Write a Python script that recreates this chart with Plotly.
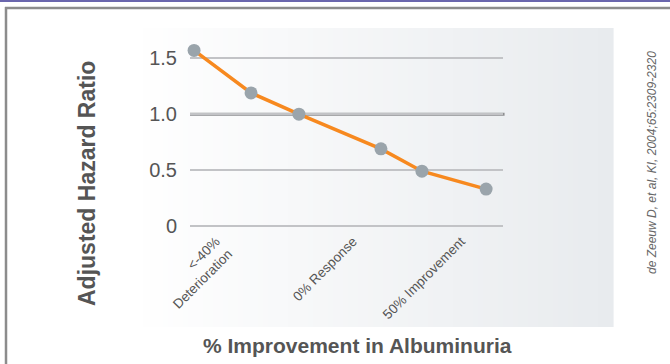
import plotly.graph_objects as go

# Adjusted hazard ratio by change in albuminuria (positions on a 0-100 position scale)
x_pos = [1.3, 19.5, 34.8, 61.0, 74.1, 94.6]
hazard_ratio = [1.57, 1.19, 1.0, 0.69, 0.49, 0.33]

tick_pos = [8.3, 52.1, 86.6]
tick_text = ["&lt;-40%<br>Deterioration", "0% Response", "50% Improvement"]
y_ticks = [0, 0.5, 1.0, 1.5]
y_tick_text = ["0", "0.5", "1.0", "1.5"]

W, H = 670, 364
L, R, T, B = 190, 167, 45, 136
FONT = "Liberation Sans, Arial, Helvetica, sans-serif"

# vertical scale: pixels per hazard-ratio unit, and the pixel row of zero
UNIT = 111.8
ZERO_ROW = 226
y_min = -(H - B - ZERO_ROW) / UNIT
y_max = y_min + (H - T - B) / UNIT


def px_x(p):
    return (p - L) / (W - L - R)


def px_y(p):
    return (H - B - p) / (H - T - B)


shapes = []
# soft horizontal gradient panel behind the plot
x0, x1, y0, y1 = 128, 613, 28, 327
n = 97
c_left = (255, 255, 255)
c_right = (232, 235, 238)
step = (x1 - x0) / n
for i in range(n):
    f = i / (n - 1)
    col = tuple(round(a + (b - a) * f) for a, b in zip(c_left, c_right))
    shapes.append(dict(
        type="rect", xref="paper", yref="paper",
        x0=px_x(x0 + i * step), x1=px_x(x0 + (i + 1) * step + 0.6),
        y0=px_y(y1), y1=px_y(y0),
        fillcolor="rgb(%d,%d,%d)" % col, line=dict(width=0), layer="below",
    ))

# reference line at hazard ratio 1.0
shapes.append(dict(type="line", xref="paper", yref="y", x0=0, x1=1.005, y0=1.0, y1=1.0,
                   line=dict(color="#8d8e90", width=3), layer="between"))

# page frame: purple rule and grey border
shapes.append(dict(type="rect", xref="paper", yref="paper",
                   x0=px_x(0), x1=px_x(W), y0=px_y(2), y1=px_y(0),
                   fillcolor="#6a66ad", line=dict(width=0), layer="above"))
shapes.append(dict(type="line", xref="paper", yref="paper",
                   x0=px_x(5), x1=px_x(W), y0=px_y(8), y1=px_y(8),
                   line=dict(color="#8c8c8c", width=2.5), layer="above"))
shapes.append(dict(type="line", xref="paper", yref="paper",
                   x0=px_x(6), x1=px_x(6), y0=px_y(7), y1=px_y(H),
                   line=dict(color="#8c8c8c", width=2.5), layer="above"))

fig = go.Figure()
fig.add_trace(go.Scatter(
    x=x_pos, y=hazard_ratio, mode="lines+markers",
    line=dict(color="#f7891f", width=3.5),
    marker=dict(color="#9aa4ab", size=13, line=dict(width=0)),
    cliponaxis=False, showlegend=False, hoverinfo="skip",
))

annotations = [
    dict(text="<b>Adjusted Hazard Ratio</b>", xref="paper", yref="paper",
         x=px_x(87), y=px_y(184), textangle=-90, showarrow=False,
         font=dict(family=FONT, size=23, color="#555555"),
         xanchor="center", yanchor="middle"),
    dict(text="<b>% Improvement in Albuminuria</b>", xref="paper", yref="paper",
         x=px_x(357), y=px_y(345), showarrow=False,
         font=dict(family=FONT, size=21, color="#555555"),
         xanchor="center", yanchor="middle"),
    dict(text="<i>de Zeeuw D, et al, KI, 2004;65:2309-2320</i>", xref="paper", yref="paper",
         x=px_x(652), y=px_y(163), textangle=-90, showarrow=False,
         font=dict(family=FONT, size=12, color="#666666"),
         xanchor="center", yanchor="middle"),
]

fig.update_layout(
    width=W, height=H,
    margin=dict(l=L, r=R, t=T, b=B, pad=0),
    paper_bgcolor="white", plot_bgcolor="rgba(0,0,0,0)",
    font=dict(family=FONT, color="#555555"),
    shapes=shapes, annotations=annotations,
    xaxis=dict(range=[0, 100], showgrid=False, zeroline=False, showline=False,
               tickmode="array", tickvals=tick_pos, ticktext=tick_text,
               tickangle=-45, ticks="", ticklabelstandoff=2,
               tickfont=dict(family=FONT, size=13.5, color="#555555"),
               fixedrange=True),
    yaxis=dict(range=[y_min, y_max], showgrid=True, gridcolor="#c2c3c6", gridwidth=2,
               zeroline=True, zerolinecolor="#c2c3c6", zerolinewidth=2, showline=False,
               tickmode="array", tickvals=y_ticks, ticktext=y_tick_text,
               ticks="", ticklabelstandoff=12,
               tickfont=dict(family=FONT, size=20, color="#555555"),
               fixedrange=True),
)

fig.write_html("out.html")
